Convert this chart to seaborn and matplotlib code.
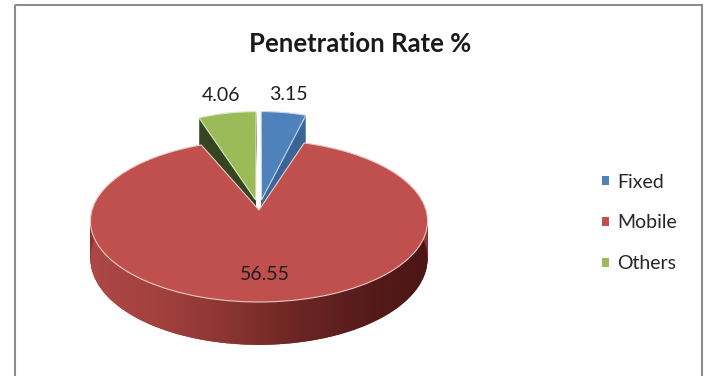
import numpy as np
import matplotlib
matplotlib.use("Agg")
import matplotlib.pyplot as plt
import seaborn as sns
from matplotlib.transforms import Transform
from matplotlib.patches import Polygon, Rectangle, Patch
from matplotlib.colors import LinearSegmentedColormap

# ---- data -------------------------------------------------------------
categories = ["Fixed", "Mobile", "Others"]
penetration = [3.15, 56.55, 4.06]
value_labels = ["3.15", "56.55", "4.06"]
chart_title = "Penetration Rate %"

# ---- styling ----------------------------------------------------------
top_colors = ["#4F81BD", "#C0504D", "#9BBB59"]
side_colors = ["#3A6598", "#8E3431", "#34451F"]
edge_colors = ["#C9D8EC", "#EBC9C5", "#DCE8C4"]
explode = [0.1, 0.0, 0.1]
tilt_height = [103.0, 79.5, 103.0]     # vertical half-axis of each slice's view (px)
label_radius = [1.34, 0.73, 1.34]
rim_shades = ["#AC4845", "#A3413E", "#8C3532", "#6E2624", "#571C1B", "#4B1615"]

sns.set_theme(style="white")
plt.rcParams["font.family"] = ["Lato", "DejaVu Sans"]

W, H = 707, 376
fig = plt.figure(figsize=(W / 100, H / 100), dpi=100)
ax = fig.add_axes([0, 0, 1, 1])

CX, CY = 259.0, 210.0    # projected pie centre (px)
A = 167.0                # horizontal half-axis (px)
K = 0.136                # perspective strength
DEPTH = 37               # thickness of the pie (px)


class TiltedPie(Transform):
    """Perspective view of the unit-circle pie onto pixel coordinates."""
    input_dims = output_dims = 2
    is_separable = False
    has_inverse = False

    def __init__(self, height, drop=0.0):
        super().__init__()
        self.height = height
        self.drop = drop

    def transform_non_affine(self, values):
        values = np.asarray(values, dtype=float).reshape(-1, 2)
        u, v = values[:, 0], values[:, 1]
        s = 1.0 / (1.0 + K * v)
        return np.column_stack([CX + A * u * s,
                                CY - self.height * v * s + self.drop * s])


def draw_layer(drop, colors, zorders, edges=None):
    wedges, _ = ax.pie(penetration, colors=colors, startangle=90,
                       counterclock=False, explode=explode, radius=1.0,
                       wedgeprops=dict(linewidth=0))
    for i, w in enumerate(wedges):
        w.set_transform(TiltedPie(tilt_height[i], drop) + ax.transData)
        w.set_zorder(zorders[i])
        if edges is not None:
            w.set_edgecolor(edges[i])
            w.set_linewidth(0.8)
    return wedges


# body of the pie: stacked slabs from the bottom up
for d in np.arange(DEPTH, 0, -1):
    draw_layer(float(d), side_colors, [1, 3, 1])

# shaded front rim of the big slice
t = np.radians(np.linspace(170, 370, 240))
ring = np.column_stack([np.cos(t), np.sin(t)])
upper = TiltedPie(tilt_height[1], 0).transform(ring)
lower = TiltedPie(tilt_height[1], DEPTH).transform(ring)[::-1]
band_pts = np.vstack([upper, lower])
band = Polygon(band_pts, closed=True, transform=ax.transData,
               facecolor="none", edgecolor="none")
ax.add_patch(band)
rim_cmap = LinearSegmentedColormap.from_list("rim", rim_shades)
img = ax.imshow(np.linspace(0, 1, 256)[None, :], cmap=rim_cmap,
                extent=(band_pts[:, 0].min(), band_pts[:, 0].max(),
                        band_pts[:, 1].max(), band_pts[:, 1].min()),
                aspect="auto", interpolation="bilinear", zorder=3.5)
img.set_clip_path(band)

# top faces
tops = draw_layer(0.0, top_colors, [2, 4, 2], edges=edge_colors)

# value labels along each slice's bisector
for i, w in enumerate(tops):
    mid = np.radians((w.theta1 + w.theta2) / 2.0)
    r = label_radius[i]
    ax.text(r * np.cos(mid), r * np.sin(mid), value_labels[i],
            transform=TiltedPie(tilt_height[i], 0) + ax.transData,
            ha="center", va="center", fontsize=14, color="#1E1E1E", zorder=6)

# chart frame
ax.add_patch(Rectangle((15, 4.8), 687, 500, fill=False,
                       edgecolor="#8C8C8C", linewidth=1.5, zorder=7))

ax.set_aspect("auto")
ax.set_xlim(0, W)
ax.set_ylim(H, 0)
ax.axis("off")

fig.text(360 / W, 1 - 52 / H, chart_title, ha="center", va="baseline",
         fontsize=18.5, fontweight="bold", color="#1A1A1A")

handles = [Patch(facecolor=c, edgecolor="none") for c in top_colors]
ax.legend(handles, categories, loc="center left",
          bbox_to_anchor=(602 / W, 1 - 223 / H), frameon=False,
          fontsize=14, handlelength=0.36, handleheight=0.36,
          handletextpad=0.42, labelspacing=1.23, borderpad=0,
          borderaxespad=0)

fig.savefig("out.png", dpi=100, facecolor="white")
